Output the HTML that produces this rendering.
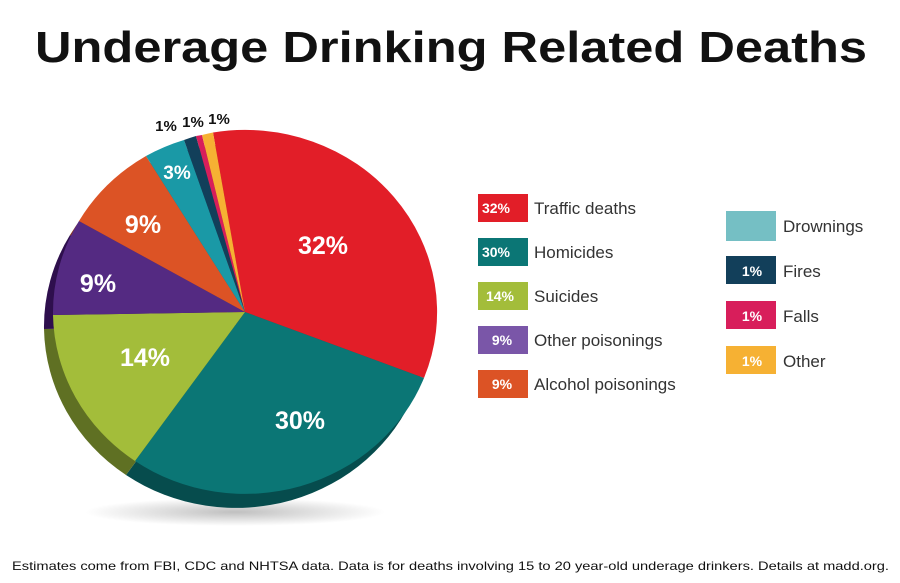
<!DOCTYPE html>
<html><head><meta charset="utf-8"><style>
html,body{margin:0;padding:0;background:#fff;}
svg{display:block;font-family:"Liberation Sans",sans-serif;}
</style></head><body>
<svg width="900" height="583" viewBox="0 0 900 583">
<text x="451" y="62" text-anchor="middle" font-size="44" font-weight="bold" fill="#111" textLength="832" lengthAdjust="spacingAndGlyphs">Underage Drinking Related Deaths</text>
<defs>
<radialGradient id="sh" cx="0.5" cy="0.5" r="0.5"><stop offset="0" stop-color="#000" stop-opacity="0.25"/><stop offset="1" stop-color="#000" stop-opacity="0"/></radialGradient>
</defs>
<ellipse cx="235" cy="512" rx="150" ry="14" fill="url(#sh)"/>
<g transform="translate(-9,14)">
<path d="M245 312 L213 132.5 A192 182 0 0 1 424 378 Z" fill="#9e1418"/>
<path d="M245 312 L424 378 A192 182 0 0 1 135 461 Z" fill="#064c4d"/>
<path d="M245 312 L135 461 A192 182 0 0 1 53 315 Z" fill="#5f7023"/>
<path d="M245 312 L53 315 A192 182 0 0 1 79 221 Z" fill="#2e0f4d"/>
<path d="M245 312 L79 221 A192 182 0 0 1 146 156 Z" fill="#8a3516"/>
<path d="M245 312 L146 156 A192 182 0 0 1 213 132.5 Z" fill="#0c5a62"/>
</g>
<path d="M245 312 L213 132.5 A192 182 0 0 1 424 378 Z" fill="#e21e28"/>
<path d="M245 312 L424 378 A192 182 0 0 1 135 461 Z" fill="#0b7675"/>
<path d="M245 312 L135 461 A192 182 0 0 1 53 315 Z" fill="#a3bd3a"/>
<path d="M245 312 L53 315 A192 182 0 0 1 79 221 Z" fill="#542a82"/>
<path d="M245 312 L79 221 A192 182 0 0 1 146 156 Z" fill="#dc5325"/>
<path d="M245 312 L146 156 A192 182 0 0 1 184 140 Z" fill="#1a99a6"/>
<path d="M245 312 L184 140 A192 182 0 0 1 196 136 Z" fill="#123f5a"/>
<path d="M245 312 L196 136 A192 182 0 0 1 202 135 Z" fill="#d81e5b"/>
<path d="M245 312 L202 135 A192 182 0 0 1 213 132.5 Z" fill="#f6b133"/>
<g fill="#fff" font-weight="bold" text-anchor="middle">
<text x="323" y="254" font-size="25">32%</text>
<text x="300" y="429" font-size="25">30%</text>
<text x="145" y="366" font-size="25">14%</text>
<text x="98" y="292" font-size="25">9%</text>
<text x="143" y="233" font-size="25">9%</text>
<text x="177" y="179" font-size="19">3%</text>
</g>
<g fill="#111" font-weight="bold" text-anchor="middle" font-size="15">
<text x="166" y="131">1%</text>
<text x="193" y="127">1%</text>
<text x="219" y="124">1%</text>
</g>
<g font-size="17" fill="#333">
<rect x="478" y="194" width="50" height="28" fill="#e21e28"/><text x="534" y="214">Traffic deaths</text>
<rect x="478" y="238" width="50" height="28" fill="#0b7675"/><text x="534" y="258">Homicides</text>
<rect x="478" y="282" width="50" height="28" fill="#a3bd3a"/><text x="534" y="302">Suicides</text>
<rect x="478" y="326" width="50" height="28" fill="#7a56a8"/><text x="534" y="346">Other poisonings</text>
<rect x="478" y="370" width="50" height="28" fill="#dc5325"/><text x="534" y="390">Alcohol poisonings</text>
<rect x="726" y="211" width="50" height="30" fill="#75bfc4"/><text x="783" y="232">Drownings</text>
<rect x="726" y="256" width="50" height="28" fill="#123f5a"/><text x="783" y="277">Fires</text>
<rect x="726" y="301" width="50" height="28" fill="#d81e5b"/><text x="783" y="322">Falls</text>
<rect x="726" y="346" width="50" height="28" fill="#f6b133"/><text x="783" y="367">Other</text>
</g>
<g fill="#fff" font-size="14" font-weight="bold" text-anchor="middle">
<text x="496" y="213">32%</text>
<text x="496" y="257">30%</text>
<text x="500" y="301">14%</text>
<text x="502" y="345">9%</text>
<text x="502" y="389">9%</text>
<text x="752" y="276">1%</text>
<text x="752" y="321">1%</text>
<text x="752" y="366">1%</text>
</g>
<text x="12" y="570" font-size="12" fill="#111" textLength="877" lengthAdjust="spacingAndGlyphs">Estimates come from FBI, CDC and NHTSA data. Data is for deaths involving 15 to 20 year-old underage drinkers. Details at madd.org.</text>
</svg>
</body></html>
